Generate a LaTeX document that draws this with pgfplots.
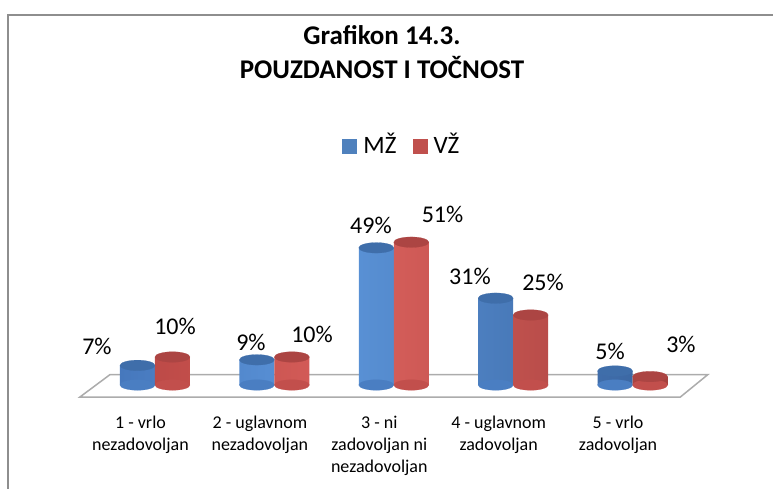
\documentclass[border=0pt]{standalone}
\usepackage{fontspec}
\setmainfont{Carlito}
\usepackage{pgfplots}
\pgfplotsset{compat=1.18}
\definecolor{bleft}{HTML}{4678BD}
\definecolor{bmid}{HTML}{5C95DA}
\definecolor{bright}{HTML}{3C68A4}
\definecolor{btop}{HTML}{3F6EAA}
\definecolor{bbody}{HTML}{4A7EC2}
\definecolor{rleft}{HTML}{BD4A47}
\definecolor{rmid}{HTML}{D9605C}
\definecolor{rright}{HTML}{A5413E}
\definecolor{rtop}{HTML}{AC4543}
\definecolor{rbody}{HTML}{C24F4C}
\definecolor{legblue}{HTML}{4F81BD}
\definecolor{legred}{HTML}{C0504D}
\definecolor{framegray}{HTML}{8E8E8E}
\pgfdeclarehorizontalshading{cylblue}{100bp}{color(0bp)=(bleft); color(25bp)=(bleft); color(45bp)=(bmid); color(75bp)=(bright); color(100bp)=(bright)}
\pgfdeclarehorizontalshading{cylred}{100bp}{color(0bp)=(rleft); color(25bp)=(rleft); color(45bp)=(rmid); color(75bp)=(rright); color(100bp)=(rright)}
\begin{document}
\begin{tikzpicture}
\useasboundingbox (0bp,0bp) rectangle (773bp,489bp);
\begin{scope}
\clip (0bp,0bp) rectangle (773bp,489bp);
\draw[framegray, line width=1.5bp] (8bp,474bp) rectangle (900bp,-50bp);
\end{scope}
\begin{axis}[
  at={(71.4bp,90bp)}, anchor=south west,
  scale only axis, width=644.76bp, height=196bp,
  xmin=-0.7, xmax=4.7, ymin=-5, ymax=65,
  clip=false,
  axis line style={draw=none},
  major tick length=0pt,
  ytick=\empty,
  xtick={0,1,2,3,4},
  xticklabels={{1 - vrlo\\nezadovoljan},{2 - uglavnom\\nezadovoljan},{3 - ni\\zadovoljan ni\\nezadovoljan},{4 - uglavnom\\zadovoljan},{5 - vrlo\\zadovoljan}},
  xticklabel style={align=center, inner sep=0pt, anchor=north, yshift=-16.5bp, xshift=-14.5bp, font=\fontsize{18bp}{22bp}\selectfont},
  title={Grafikon 14.3.\\POUZDANOST I TOČNOST},
  title style={font=\bfseries\fontsize{27bp}{34bp}\selectfont, align=center, at={(0.4817,1.877)}, anchor=north, inner sep=0pt},
  legend style={at={(0.5111,1.2985)}, anchor=center, draw=none, fill=none, legend columns=-1,
    font=\fontsize{25bp}{29bp}\selectfont, nodes={inner sep=0pt},
    /tikz/every even column/.append style={column sep=16bp}},
]
% floor
\addplot[draw=gray!65, line width=1.5bp, fill=white, line join=miter, forget plot] coordinates {(-0.377,3.7) (4.63,3.7) (4.40,-4.3) (-0.629,-4.3) (-0.377,3.7) (4.63,3.7)};
% MZ series
\addplot[only marks, mark=*, mark size=17.5bp, mark options={draw=bbody, fill=bbody, line width=0.2bp, xshift=-17.5bp, yscale=0.3}, forget plot] coordinates {(0,0) (1,0) (2,0) (3,0) (4,0)};
\addplot[ybar, bar width=35bp, bar shift=-17.5bp, draw=none, shade, shading=cylblue, forget plot] coordinates {(0,7) (1,9) (2,49) (3,31) (4,5)};
\addplot[only marks, mark=*, mark size=17.5bp, mark options={draw=btop, fill=btop, line width=0.2bp, xshift=-17.5bp, yscale=0.3}, forget plot] coordinates {(0,7) (1,9) (2,49) (3,31) (4,5)};
% VZ series
\addplot[only marks, mark=*, mark size=17.5bp, mark options={draw=rbody, fill=rbody, line width=0.2bp, xshift=17.5bp, yscale=0.3}, forget plot] coordinates {(0,0) (1,0) (2,0) (3,0) (4,0)};
\addplot[ybar, bar width=35bp, bar shift=17.5bp, draw=none, shade, shading=cylred, forget plot] coordinates {(0,10) (1,10) (2,51) (3,25) (4,3)};
\addplot[only marks, mark=*, mark size=17.5bp, mark options={draw=rtop, fill=rtop, line width=0.2bp, xshift=17.5bp, yscale=0.3}, forget plot] coordinates {(0,10) (1,10) (2,51) (3,25) (4,3)};
% data labels
\addplot[only marks, mark=none, nodes near coords, point meta=explicit symbolic,
  nodes near coords style={anchor=center, inner sep=0pt, font=\fontsize{24bp}{28bp}\selectfont}, forget plot]
  coordinates {(-0.486,13.93)[7\%] (0.804,15.36)[9\%] (1.809,56.96)[49\%] (2.638,38.93)[31\%] (3.811,12.14)[5\%]
               (0.168,21.07)[10\%] (1.315,18.21)[10\%] (2.408,60.89)[51\%] (3.250,36.79)[25\%] (4.405,14.64)[3\%]};
\addlegendimage{empty legend}
\addlegendentry{\textcolor{legblue}{\rule{15bp}{15bp}}\hspace{6bp}MŽ}
\addlegendimage{empty legend}
\addlegendentry{\textcolor{legred}{\rule{15bp}{15bp}}\hspace{6bp}VŽ}
\end{axis}
\end{tikzpicture}
\end{document}
